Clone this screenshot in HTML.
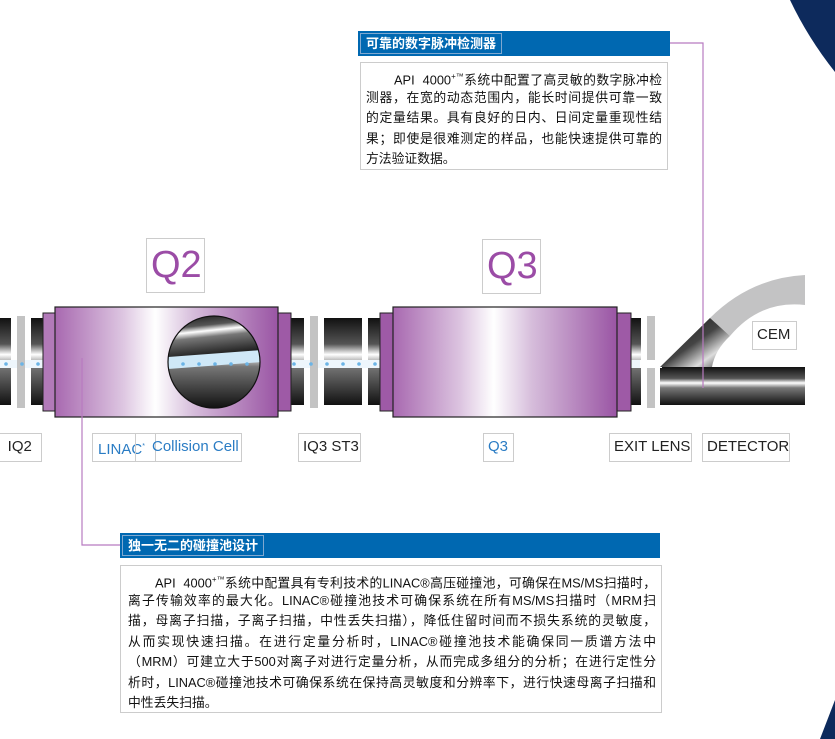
<!DOCTYPE html>
<html><head><meta charset="utf-8"><style>
body{margin:0;width:835px;height:739px;background:#fff;position:relative;overflow:hidden;font-family:"Liberation Sans","Noto Sans CJK SC",sans-serif}
.abs{position:absolute}
.lbl{position:absolute;border:1px solid #ccc;background:#fff;font-size:15px;color:#222;line-height:26px;padding:0 4px;box-sizing:border-box;height:29px;white-space:nowrap}
.hdr{position:absolute;background:#0068b1;height:25px}
.hdr span{position:absolute;left:2px;top:2px;height:19px;border:1px solid #7fa8d0;color:#fff;font-weight:bold;font-size:13px;line-height:19px;padding:0 5px;white-space:nowrap}
.tb{position:absolute;border:1px solid #ccc;box-sizing:border-box;font-size:12.8px;color:#111}
.ln{text-align:justify;text-align-last:justify;height:20.5px;line-height:20.5px;white-space:nowrap;overflow:hidden}
</style></head><body>
<svg class="abs" style="left:0;top:0" width="835" height="739">
<defs>
<linearGradient id="tube" x1="0" y1="0" x2="0" y2="1">
<stop offset="0" stop-color="#111"/><stop offset="0.3" stop-color="#555"/><stop offset="0.42" stop-color="#fff"/><stop offset="0.55" stop-color="#777"/><stop offset="1" stop-color="#111"/></linearGradient>
<linearGradient id="pur" x1="0" y1="0" x2="1" y2="0">
<stop offset="0" stop-color="#a869b0"/><stop offset="0.3" stop-color="#dcc4e0"/><stop offset="0.45" stop-color="#fff"/><stop offset="0.62" stop-color="#d6bddb"/><stop offset="1" stop-color="#9a55a4"/></linearGradient>
<linearGradient id="dia" x1="0" y1="0" x2="1" y2="1">
<stop offset="0" stop-color="#111"/><stop offset="0.5" stop-color="#444"/><stop offset="0.75" stop-color="#ddd"/><stop offset="1" stop-color="#333"/></linearGradient>
<clipPath id="cc"><circle cx="214" cy="362" r="46"/></clipPath>
</defs>
<path d="M790,0 L835,0 L835,72 Q808,38 790,0Z" fill="#0d2a5c"/>
<path d="M820,739 L835,700 L835,739Z" fill="#0d2a5c"/>
<g fill="url(#tube)">
<rect x="0" y="318" width="11" height="87"/><rect x="31" y="318" width="12" height="87"/>
<rect x="291" y="318" width="13" height="87"/><rect x="324" y="318" width="38" height="87"/>
<rect x="368" y="318" width="12" height="87"/><rect x="631" y="318" width="10" height="87"/>
<rect x="660" y="367" width="145" height="38"/>
</g>
<rect x="0" y="360" width="660" height="8" fill="#eef6fc"/>
<rect x="17" y="316" width="8" height="92" fill="#c3c3c3"/><rect x="310" y="316" width="8" height="92" fill="#c3c3c3"/>
<rect x="647" y="316" width="8" height="92" fill="#c3c3c3"/>
<rect x="640" y="360" width="22" height="8" fill="#fff"/>
<g fill="#6bb4e6"><circle cx="6" cy="364" r="1.8"/><circle cx="22" cy="364" r="1.8"/><circle cx="38" cy="364" r="1.8"/><circle cx="294" cy="364" r="1.8"/><circle cx="311" cy="364" r="1.8"/><circle cx="327" cy="364" r="1.8"/><circle cx="343" cy="364" r="1.8"/><circle cx="359" cy="364" r="1.8"/><circle cx="375" cy="364" r="1.8"/></g>
<path d="M710,318 Q750,278 805,275 L805,305 Q760,300 730,336Z" fill="#c3c3c4"/>
<path d="M660,367 L710,318 L730,336 Q715,350 712,367Z" fill="url(#dia)"/>
<rect x="43" y="313" width="12" height="98" fill="#b27ab9" stroke="#222" stroke-width="1"/>
<rect x="278" y="313" width="13" height="98" fill="#9e5aa6" stroke="#222" stroke-width="1"/>
<rect x="55" y="307" width="223" height="110" fill="url(#pur)" stroke="#222" stroke-width="1.2"/>
<g clip-path="url(#cc)"><rect x="168" y="316" width="92" height="92" fill="url(#tube)"/>
<rect x="160" y="310" width="110" height="48" fill="url(#tube)" transform="rotate(-6 214 362)"/>
<path d="M168,357 L262,350 L262,362 L168,369Z" fill="#cfe8f7"/>
<g fill="#6bb4e6"><circle cx="183" cy="364" r="1.8"/><circle cx="199" cy="364" r="1.8"/><circle cx="215" cy="364" r="1.8"/><circle cx="231" cy="364" r="1.8"/><circle cx="247" cy="364" r="1.8"/></g></g>
<circle cx="214" cy="362" r="46" fill="none" stroke="#111" stroke-width="1.2"/>
<rect x="380" y="313" width="13" height="98" fill="#9e5aa6" stroke="#222" stroke-width="1"/>
<rect x="617" y="313" width="14" height="98" fill="#9e5aa6" stroke="#222" stroke-width="1"/>
<rect x="393" y="307" width="224" height="110" fill="url(#pur)" stroke="#222" stroke-width="1.2"/>
<polyline points="82,358 82,545 120,545" fill="none" stroke="#b87bc0" stroke-width="1.2"/>
<polyline points="670,43 703,43 703,388" fill="none" stroke="#b87bc0" stroke-width="1.2"/>
</svg>
<div class="lbl" style="left:146px;top:238px;width:59px;height:55px;font-size:38px;line-height:53px;color:#9b4ca6;padding:0 0 0 4px">Q2</div>
<div class="lbl" style="left:482px;top:239px;width:59px;height:55px;font-size:38px;line-height:53px;color:#9b4ca6;padding:0 0 0 4px">Q3</div>
<div class="lbl" style="left:-14px;top:433px;width:56px">2 &nbsp;IQ2</div>
<div class="lbl" style="left:92px;top:433px;width:64px;color:#2a7cc4;padding-left:5px">LINAC<sup style="font-size:7px">*</sup></div>
<div class="lbl" style="left:135px;top:433px;width:107px;color:#2a7cc4;background:transparent;padding-left:16px">Collision Cell</div>
<div class="lbl" style="left:298px;top:433px;width:63px">IQ3 ST3</div>
<div class="lbl" style="left:483px;top:433px;width:31px;color:#2a7cc4">Q3</div>
<div class="lbl" style="left:609px;top:433px;width:83px">EXIT LENS</div>
<div class="lbl" style="left:702px;top:433px;width:88px">DETECTOR</div>
<div class="lbl" style="left:752px;top:321px;width:45px">CEM</div>
<div class="hdr" style="left:358px;top:31px;width:312px"><span>可靠的数字脉冲检测器</span></div>
<div class="tb" style="left:360px;top:62px;width:308px;padding:4px 5px 0 5px;height:108px">
<div class="ln" style="padding-left:28px">API&nbsp; 4000<sup style="font-size:8px">+™</sup>系统中配置了高灵敏的数字脉冲检</div>
<div class="ln">测器，在宽的动态范围内，能长时间提供可靠一致</div>
<div class="ln">的定量结果。具有良好的日内、日间定量重现性结</div>
<div class="ln">果；即使是很难测定的样品，也能快速提供可靠的</div>
<div class="ln" style="text-align-last:left">方法验证数据。</div>
</div>
<div class="hdr" style="left:120px;top:533px;width:540px"><span>独一无二的碰撞池设计</span></div>
<div class="tb" style="left:120px;top:565px;width:542px;padding:4px 5px 0 7px;height:148px">
<div class="ln" style="padding-left:27px">API&nbsp; 4000<sup style="font-size:8px">+™</sup>系统中配置具有专利技术的LINAC®高压碰撞池，可确保在MS/MS扫描时，</div>
<div class="ln">离子传输效率的最大化。LINAC®碰撞池技术可确保系统在所有MS/MS扫描时（MRM扫</div>
<div class="ln">描，母离子扫描，子离子扫描，中性丢失扫描），降低住留时间而不损失系统的灵敏度，</div>
<div class="ln">从而实现快速扫描。在进行定量分析时，LINAC®碰撞池技术能确保同一质谱方法中</div>
<div class="ln">（MRM）可建立大于500对离子对进行定量分析，从而完成多组分的分析；在进行定性分</div>
<div class="ln">析时，LINAC®碰撞池技术可确保系统在保持高灵敏度和分辨率下，进行快速母离子扫描和</div>
<div class="ln" style="text-align-last:left">中性丢失扫描。</div>
</div>
</body></html>
